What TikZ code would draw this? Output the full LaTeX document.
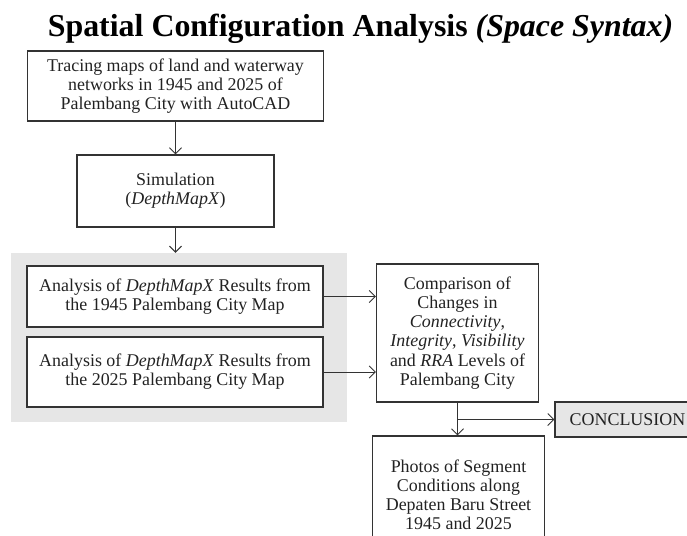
\documentclass[tikz,border=0pt]{standalone}
\usepackage{fontspec}
\setmainfont{Liberation Serif}
\usetikzlibrary{arrows.meta}
\definecolor{ink}{HTML}{222222}
\definecolor{edge}{HTML}{333333}
\definecolor{panel}{HTML}{E6E6E6}
\tikzset{
  stepbox/.style={draw=edge, line width=1.1bp, fill=white, text=ink,
    align=center, inner sep=0pt, font=\fontsize{18}{19.2}\selectfont},
  arr/.style={draw=edge, line width=1bp, -{Straight Barb[length=6bp,width=12bp,line width=1bp]}}
}
\begin{document}
\begin{tikzpicture}[x=1bp, y=-1bp]
\useasboundingbox (0,0) rectangle (687,536);
\fill[white] (0,0) rectangle (687,536);

% title
\node[anchor=base, text=black, inner sep=0pt, font=\fontsize{32}{36}\selectfont\bfseries]
  (title) at (360.5,37) {Spatial Configuration Analysis \textit{(Space Syntax)}};

% shaded panel behind the two analysis steps
\node[fill=panel, inner sep=0pt, minimum width=336bp, minimum height=169bp]
  (grp) at (179,337.5) {};

\node[stepbox, minimum width=296bp, minimum height=70bp] (trace) at (175.5,86)
  {Tracing maps of land and waterway\\ networks in 1945 and 2025 of\\ Palembang City with AutoCAD};

\node[stepbox, minimum width=197bp, minimum height=72bp] (sim) at (175.5,191)
  {Simulation\\ (\textit{DepthMapX})};

\node[stepbox, minimum width=296bp, minimum height=61bp] (an45) at (175,296.5)
  {Analysis of \textit{DepthMapX} Results from\\ the 1945 Palembang City Map};

\node[stepbox, minimum width=296bp, minimum height=70bp] (an25) at (175,372)
  {Analysis of \textit{DepthMapX} Results from\\ the 2025 Palembang City Map};

\node[stepbox, minimum width=162bp, minimum height=138bp] (comp) at (457.5,333)
  {Comparison of\\ Changes in\\ \textit{Connectivity},\\ \textit{Integrity}, \textit{Visibility}\\ and \textit{RRA} Levels of\\ Palembang City};

\node[stepbox, minimum width=172bp, minimum height=118bp] (photo) at (458.5,495)
  {Photos of Segment\\ Conditions along\\ Depaten Baru Street\\ 1945 and 2025};

\node[stepbox, fill=panel, minimum width=145bp, minimum height=35bp] (concl) at (627.5,419.5)
  {CONCLUSION};

% connectors
\draw[arr] (trace.south) -- (sim.north);
\draw[arr] (sim.south) -- (grp.north -| sim.south);
\draw[arr] (an45.east) -- (an45.east -| comp.west);
\draw[arr] (an25.east) -- (an25.east -| comp.west);
\draw[arr] (comp.south) -- (comp.south |- photo.north);
\coordinate (split) at (comp.south |- concl.west);
\draw[arr] (split) -- (concl.west);
\end{tikzpicture}
\end{document}
